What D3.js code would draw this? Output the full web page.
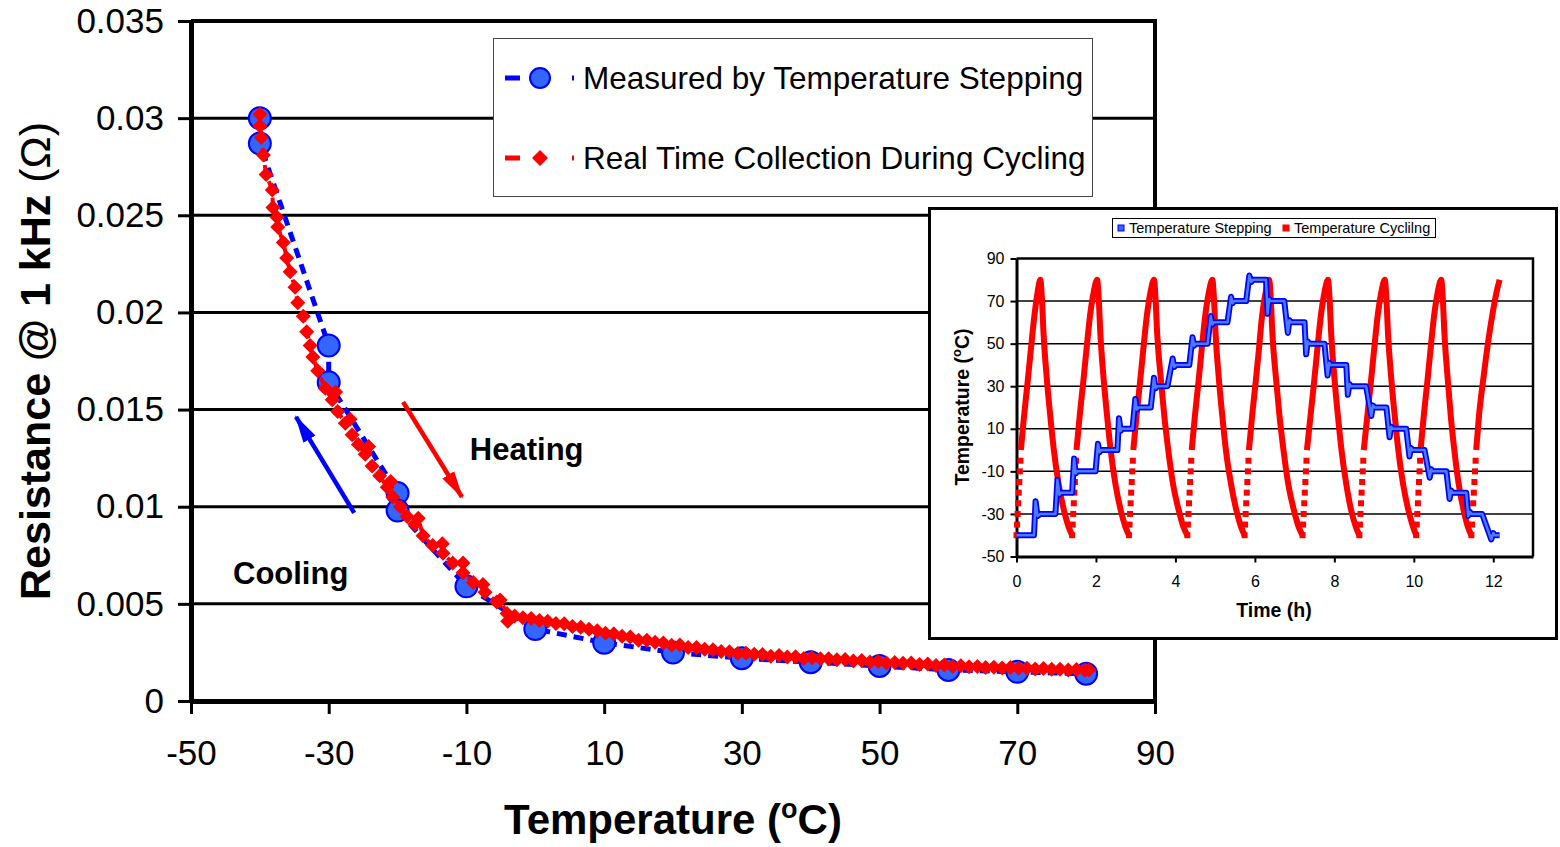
<!DOCTYPE html>
<html>
<head>
<meta charset="utf-8">
<script src="https://cdn.jsdelivr.net/npm/d3@7"></script>
<style>
  html, body { margin: 0; padding: 0; background: #fff; }
  svg { display: block; }
  text { font-family: "Liberation Sans", Arial, Helvetica, sans-serif; }
</style>
</head>
<body>
<div id="chart"></div>
<script>
// ---- main chart: resistance vs temperature ----
const mainXTicks = [-50, -30, -10, 10, 30, 50, 70, 90];
const mainYTicks = [0, 0.005, 0.01, 0.015, 0.02, 0.025, 0.03, 0.035];
const mainYLabels = ['0', '0.005', '0.01', '0.015', '0.02', '0.025', '0.03', '0.035'];

// measured by temperature stepping
const steppingTemp = [-40, -40, -30, -30, -20, -20, -10, 0, 10, 20, 30, 40, 50, 60, 70, 80];
const steppingRes = [0.0300, 0.0287, 0.0183, 0.0164, 0.0107, 0.0098, 0.0059, 0.0037, 0.0030,
  0.0025, 0.0022, 0.0020, 0.0018, 0.0016, 0.0015, 0.0014];

// real time collection during cycling
const cyclingTemp = [-40.0, -40.0, -39.8, -39.5, -39.1, -38.2, -38.1, -37.5, -37.4, -36.6, -36.1, -35.6,
  -34.9, -34.5, -33.7, -33.2, -32.7, -32.3, -31.6, -30.5, -29.5, -29.0, -28.7, -27.6, -26.9, -26.6,
  -25.7, -24.7, -24.2, -23.7, -22.6, -21.5, -21.0, -20.7, -19.6, -18.6, -17.5, -17.0, -16.3, -14.9,
  -13.5, -13.4, -12.0, -10.5, -10.5, -9.0, -7.6, -7.3, -5.6, -5.1, -4.1, -4.0,
  -3.0, -1.8, -0.6, 0.6, 1.8, 3.0, 4.2, 5.4, 6.6, 7.8, 9.0, 10.2, 11.4, 12.6, 13.8, 15.0, 16.2, 17.4,
  18.6, 19.8, 21.0, 22.2, 23.4, 24.6, 25.8, 27.0, 28.2, 29.4, 30.6, 31.8, 33.0, 34.2, 35.4, 36.6,
  37.8, 39.0, 40.2, 41.4, 42.6, 43.8, 45.0, 46.2, 47.4, 48.6, 49.8, 51.0, 52.2, 53.4, 54.6, 55.8,
  57.0, 58.2, 59.4, 60.6, 61.8, 63.0, 64.2, 65.4, 66.6, 67.8, 69.0, 70.2, 71.4, 72.6, 73.8, 75.0,
  76.2, 77.4, 78.6, 79.8, 80.4];
const cyclingRes = [0.0302, 0.0296, 0.0290, 0.0281, 0.0271, 0.0263, 0.0254, 0.0249, 0.0244, 0.0236,
  0.0228, 0.0221, 0.0213, 0.0205, 0.0198, 0.0190, 0.0183, 0.0177, 0.0170, 0.0161, 0.0155, 0.0159,
  0.0149, 0.0143, 0.0145, 0.0137, 0.0132, 0.0127, 0.0131, 0.0121, 0.0116, 0.0110, 0.0113, 0.0105,
  0.0100, 0.0095, 0.0091, 0.0094, 0.0085, 0.0080, 0.0081, 0.0076, 0.0071, 0.0071, 0.0066, 0.0061,
  0.0060, 0.0056, 0.0051, 0.0052, 0.0045, 0.0041,
  0.00437, 0.00428, 0.00424, 0.00414, 0.00411, 0.00399, 0.00397, 0.00384, 0.00380, 0.00369, 0.00362,
  0.00349, 0.00346, 0.00333, 0.00329, 0.00313, 0.00313, 0.00302, 0.00298, 0.00287, 0.00288, 0.00276,
  0.00275, 0.00266, 0.00264, 0.00255, 0.00254, 0.00245, 0.00246, 0.00240, 0.00239, 0.00230, 0.00234,
  0.00227, 0.00228, 0.00219, 0.00223, 0.00217, 0.00218, 0.00212, 0.00213, 0.00206, 0.00208, 0.00201,
  0.00203, 0.00196, 0.00198, 0.00194, 0.00195, 0.00188, 0.00190, 0.00183, 0.00185, 0.00178, 0.00182,
  0.00176, 0.00177, 0.00173, 0.00174, 0.00170, 0.00172, 0.00168, 0.00169, 0.00165, 0.00167, 0.00163,
  0.00164, 0.00160, 0.00162, 0.00158, 0.00160];

const legendLabels = ['Measured by Temperature Stepping', 'Real Time Collection During Cycling'];

// annotation arrows in data units: [fromT, fromR, toT, toR]
const heatingArrow = [-19.2, 0.01539, -10.65, 0.0105];
const coolingArrow = [-26.3, 0.00968, -34.75, 0.01462];
const heatingLabel = [-9.5, 0.01297];
const coolingLabel = [-43.9, 0.00659];

// ---- inset: temperature profiles vs time ----
const insetXTicks = [0, 2, 4, 6, 8, 10, 12];
const insetYTicks = [-50, -30, -10, 10, 30, 50, 70, 90];
const insetLegend = ['Temperature Stepping', 'Temperature Cyclilng'];

const stepTime = [0.00, 0.44, 0.48, 0.53, 0.60, 0.98, 1.03, 1.08, 1.12, 1.40, 1.45, 1.49, 1.53, 1.99,
  2.05, 2.09, 2.13, 2.54, 2.58, 2.62, 2.66, 2.92, 2.99, 3.03, 3.07, 3.38, 3.46, 3.50, 3.54, 3.80,
  3.93, 3.97, 4.01, 4.35, 4.43, 4.47, 4.51, 4.81, 4.89, 4.93, 4.97, 5.31, 5.40, 5.44, 5.48, 5.78,
  5.86, 5.91, 5.95, 6.28, 6.32, 6.36, 6.40, 6.74, 6.83, 6.87, 6.91, 7.25, 7.29, 7.33, 7.37, 7.75,
  7.83, 7.87, 7.91, 8.30, 8.34, 8.38, 8.42, 8.80, 8.93, 8.97, 9.01, 9.31, 9.39, 9.43, 9.47, 9.81,
  9.89, 9.93, 9.97, 10.27, 10.40, 10.44, 10.48, 10.82, 10.90, 10.94, 10.98, 11.32, 11.37, 11.41,
  11.45, 11.72, 11.95, 12.00, 12.04, 12.16];
const stepTemp = [-40, -40, -24, -31, -30, -30, -14, -21, -20, -20, -4, -11, -10, -10,
  3, -1, 0, 0, 15, 9, 10, 10, 24, 19, 20, 20, 34, 29, 30, 30,
  43, 39, 40, 40, 53, 49, 50, 50, 63, 59, 60, 60, 72, 69, 70, 70,
  82, 79, 80, 80, 64, 71, 70, 70, 55, 61, 60, 60, 45, 51, 50, 50,
  35, 41, 40, 40, 26, 31, 30, 30, 16, 21, 20, 20, 6, 11, 10, 10,
  -3, 1, 0, 0, -13, -9, -10, -10, -23, -19, -20, -20, -31, -29,
  -30, -30, -42, -39, -40, -40];

// cycling: dense (continuous-looking) runs of [time h, temp C]
const cycleRuns = [
  [[0.11, 0], [0.19, 16], [0.28, 32], [0.36, 47], [0.45, 63], [0.53, 74], [0.60, 80], [0.64, 71], [0.68, 55],
   [0.77, 32], [0.85, 16], [0.94, 0], [1.06, -16], [1.19, -28], [1.31, -36], [1.40, -40]],
  [[1.51, 0], [1.59, 16], [1.68, 32], [1.76, 47], [1.85, 63], [1.94, 74], [2.03, 80], [2.07, 71], [2.11, 55],
   [2.20, 32], [2.28, 16], [2.37, 0], [2.49, -16], [2.62, -28], [2.74, -36], [2.83, -40]],
  [[2.94, 0], [3.02, 16], [3.11, 32], [3.19, 47], [3.28, 63], [3.37, 74], [3.46, 80], [3.50, 71], [3.54, 55],
   [3.64, 32], [3.72, 16], [3.82, 0], [3.94, -16], [4.08, -28], [4.20, -36], [4.30, -40]],
  [[4.41, 0], [4.49, 16], [4.58, 32], [4.66, 47], [4.75, 63], [4.84, 74], [4.93, 80], [4.97, 71], [5.01, 55],
   [5.10, 32], [5.18, 16], [5.27, 0], [5.40, -16], [5.53, -28], [5.65, -36], [5.74, -40]],
  [[5.85, 0], [5.93, 16], [6.02, 32], [6.10, 47], [6.18, 63], [6.27, 74], [6.36, 80], [6.40, 71], [6.44, 55],
   [6.54, 32], [6.62, 16], [6.72, 0], [6.84, -16], [6.98, -28], [7.10, -36], [7.20, -40]],
  [[7.31, 0], [7.40, 16], [7.49, 32], [7.57, 47], [7.66, 63], [7.75, 74], [7.84, 80], [7.88, 71], [7.92, 55],
   [8.01, 32], [8.09, 16], [8.18, 0], [8.30, -16], [8.42, -28], [8.54, -36], [8.63, -40]],
  [[8.74, 0], [8.83, 16], [8.92, 32], [9.00, 47], [9.09, 63], [9.18, 74], [9.27, 80], [9.31, 71], [9.35, 55],
   [9.44, 32], [9.52, 16], [9.61, 0], [9.73, -16], [9.86, -28], [9.98, -36], [10.06, -40]],
  [[10.17, 0], [10.25, 16], [10.34, 32], [10.42, 47], [10.51, 63], [10.60, 74], [10.69, 80], [10.73, 71], [10.77, 55],
   [10.86, 32], [10.93, 16], [11.02, 0], [11.13, -16], [11.25, -28], [11.36, -36], [11.45, -40]],
  [[11.57, 0], [11.64, 16], [11.76, 35], [11.88, 52], [12.00, 66], [12.08, 74], [12.16, 80]]
];
// cycling: sparse samples on the fast rise out of each -40 C trough
const dotTemps = [-40, -35, -30, -25, -20, -15, -10, -5];
const dotTimes = [
  [0.000, 0.014, 0.028, 0.042, 0.056, 0.070, 0.084, 0.098],
  [1.400, 1.414, 1.428, 1.442, 1.456, 1.470, 1.484, 1.498],
  [2.830, 2.844, 2.858, 2.872, 2.886, 2.900, 2.914, 2.928],
  [4.300, 4.314, 4.328, 4.342, 4.356, 4.370, 4.384, 4.398],
  [5.740, 5.754, 5.768, 5.782, 5.796, 5.810, 5.824, 5.838],
  [7.200, 7.214, 7.228, 7.242, 7.256, 7.270, 7.284, 7.298],
  [8.630, 8.644, 8.658, 8.672, 8.686, 8.700, 8.714, 8.728],
  [10.060, 10.074, 10.088, 10.102, 10.116, 10.130, 10.144, 10.158],
  [11.450, 11.465, 11.480, 11.495, 11.510, 11.525, 11.540, 11.555]
];

function renderChart() {
  const W = 1560, H = 847;
  const BLUE = '#0000ff', BLUE_FILL = '#3366ff', RED = '#ff0000';

  const svg = d3.select('#chart').append('svg')
    .attr('width', W)
    .attr('height', H);
  svg.append('rect').attr('width', W).attr('height', H).attr('fill', '#fff');

  const defs = svg.append('defs');
  [['arrow-red', RED], ['arrow-blue', BLUE]].forEach(([id, col]) => {
    defs.append('marker')
      .attr('id', id)
      .attr('markerUnits', 'userSpaceOnUse')
      .attr('viewBox', '0 -8 28 16')
      .attr('refX', 26).attr('refY', 0)
      .attr('markerWidth', 28).attr('markerHeight', 16)
      .attr('orient', 'auto')
      .append('path')
      .attr('d', 'M0,-7L28,0L0,7Z')
      .attr('fill', col);
  });

  // ---------- main plot ----------
  const plot = { left: 191, right: 1155, top: 21, bottom: 701 };
  const x = d3.scaleLinear().domain([-50, 90]).range([plot.left, plot.right]);
  const y = d3.scaleLinear().domain([0, 0.035]).range([plot.bottom, plot.top]);

  svg.append('g').selectAll('line')
    .data(mainYTicks.slice(1, -1))
    .join('line')
    .attr('x1', plot.left).attr('x2', plot.right)
    .attr('y1', d => y(d)).attr('y2', d => y(d))
    .attr('stroke', '#000').attr('stroke-width', 3);

  svg.append('path')
    .attr('d', `M${plot.left},${plot.top}H${plot.right}V${plot.bottom}`)
    .attr('fill', 'none').attr('stroke', '#000').attr('stroke-width', 4);

  const yAxis = svg.append('g')
    .attr('transform', `translate(${plot.left},0)`)
    .call(d3.axisLeft(y).tickValues(mainYTicks).tickFormat((d, i) => mainYLabels[i])
      .tickSize(13).tickSizeOuter(0).tickPadding(14));
  const xAxis = svg.append('g')
    .attr('transform', `translate(0,${plot.bottom})`)
    .call(d3.axisBottom(x).tickValues(mainXTicks).tickFormat(d3.format('d'))
      .tickSize(13).tickSizeOuter(0).tickPadding(26));
  [yAxis, xAxis].forEach(ax => {
    ax.select('.domain').attr('stroke', '#000').attr('stroke-width', 5);
    ax.selectAll('.tick line').attr('stroke', '#000').attr('stroke-width', 3);
    ax.selectAll('.tick text')
      .attr('fill', '#000')
      .style('font-family', '"Liberation Sans", Arial, sans-serif')
      .style('font-size', '35px');
  });
  xAxis.selectAll('.tick text').text(d => d < 0 ? '-' + Math.abs(d) : d);

  // axis titles
  const yTitle = svg.append('text')
    .attr('transform', 'translate(50,361) rotate(-90)')
    .attr('text-anchor', 'middle')
    .style('font-size', '43px').style('font-weight', 'bold')
    .text('Resistance @ 1 kHz ');
  yTitle.append('tspan').style('font-weight', 'normal').text('(Ω)');

  const xTitle = svg.append('text')
    .attr('x', 673).attr('y', 834)
    .attr('text-anchor', 'middle')
    .style('font-size', '42px').style('font-weight', 'bold');
  xTitle.append('tspan').text('Temperature (');
  xTitle.append('tspan').attr('dy', -16).style('font-size', '27px').text('o');
  xTitle.append('tspan').attr('dy', 16).text('C)');

  // series
  const stepPts = steppingTemp.map((t, i) => ({ t, r: steppingRes[i] }));
  const cyclePts = cyclingTemp.map((t, i) => ({ t, r: cyclingRes[i] }));
  const line = d3.line().x(d => x(d.t)).y(d => y(d.r));
  const diamond = s => `M0,${-s}L${s},0L0,${s}L${-s},0Z`;

  svg.append('path').datum(stepPts)
    .attr('d', line)
    .attr('fill', 'none').attr('stroke', BLUE)
    .attr('stroke-width', 5).attr('stroke-dasharray', '10,7');

  svg.append('g').selectAll('circle')
    .data(stepPts)
    .join('circle')
    .attr('cx', d => x(d.t)).attr('cy', d => y(d.r)).attr('r', 11)
    .attr('fill', BLUE_FILL).attr('stroke', BLUE).attr('stroke-width', 2);

  svg.append('path').datum(cyclePts)
    .attr('d', line)
    .attr('fill', 'none').attr('stroke', RED)
    .attr('stroke-width', 4).attr('stroke-dasharray', '10,7');

  svg.append('g').selectAll('path')
    .data(cyclePts)
    .join('path')
    .attr('transform', d => `translate(${x(d.t)},${y(d.r)})`)
    .attr('d', diamond(7.5))
    .attr('fill', RED);

  // legend
  const lg = svg.append('g');
  lg.append('rect')
    .attr('x', 493.5).attr('y', 38.5).attr('width', 599).attr('height', 158)
    .attr('fill', '#fff').attr('stroke', '#444').attr('stroke-width', 1);
  legendLabels.forEach((label, i) => {
    const cy = 78 + i * 80;
    const col = i === 0 ? BLUE : RED;
    lg.append('line')
      .attr('x1', 505).attr('x2', 574).attr('y1', cy).attr('y2', cy)
      .attr('stroke', col).attr('stroke-width', 5).attr('stroke-dasharray', '15,52');
    if (i === 0) {
      lg.append('circle').attr('cx', 540).attr('cy', cy).attr('r', 10)
        .attr('fill', BLUE_FILL).attr('stroke', BLUE).attr('stroke-width', 2);
    } else {
      lg.append('path').attr('transform', `translate(540,${cy})`)
        .attr('d', diamond(8)).attr('fill', RED);
    }
    lg.append('text')
      .attr('x', 583).attr('y', cy).attr('dy', '0.35em')
      .style('font-size', '31.5px')
      .text(label);
  });

  // annotations
  svg.append('line')
    .attr('x1', x(heatingArrow[0])).attr('y1', y(heatingArrow[1]))
    .attr('x2', x(heatingArrow[2])).attr('y2', y(heatingArrow[3]))
    .attr('stroke', RED).attr('stroke-width', 4.5)
    .attr('marker-end', 'url(#arrow-red)');
  svg.append('line')
    .attr('x1', x(coolingArrow[0])).attr('y1', y(coolingArrow[1]))
    .attr('x2', x(coolingArrow[2])).attr('y2', y(coolingArrow[3]))
    .attr('stroke', BLUE).attr('stroke-width', 4.5)
    .attr('marker-end', 'url(#arrow-blue)');
  svg.append('text')
    .attr('x', x(heatingLabel[0])).attr('y', y(heatingLabel[1])).attr('dy', '0.35em')
    .style('font-size', '31px').style('font-weight', 'bold')
    .text('Heating');
  svg.append('text')
    .attr('x', x(coolingLabel[0])).attr('y', y(coolingLabel[1])).attr('dy', '0.35em')
    .style('font-size', '31px').style('font-weight', 'bold')
    .text('Cooling');

  // ---------- inset ----------
  const box = { x: 929.5, y: 208.5, w: 627, h: 430 };
  const ip = { left: 1016.5, right: 1533, top: 258.5, bottom: 556.5 };
  const ix = d3.scaleLinear().domain([0, 13]).range([ip.left, ip.right]);
  const iy = d3.scaleLinear().domain([-50, 90]).range([ip.bottom, ip.top]);
  const inset = svg.append('g');

  inset.append('rect')
    .attr('x', box.x).attr('y', box.y).attr('width', box.w).attr('height', box.h)
    .attr('fill', '#fff').attr('stroke', '#000').attr('stroke-width', 3);

  inset.append('g').selectAll('line')
    .data(insetYTicks.slice(1, -1))
    .join('line')
    .attr('x1', ip.left).attr('x2', ip.right)
    .attr('y1', d => iy(d)).attr('y2', d => iy(d))
    .attr('stroke', '#000').attr('stroke-width', 1.5);

  inset.append('path')
    .attr('d', `M${ip.left},${ip.top}H${ip.right}V${ip.bottom}`)
    .attr('fill', 'none').attr('stroke', '#000').attr('stroke-width', 2.5);

  const iyAxis = inset.append('g')
    .attr('transform', `translate(${ip.left},0)`)
    .call(d3.axisLeft(iy).tickValues(insetYTicks).tickSize(6).tickSizeOuter(0).tickPadding(6));
  const ixAxis = inset.append('g')
    .attr('transform', `translate(0,${ip.bottom})`)
    .call(d3.axisBottom(ix).tickValues(insetXTicks).tickSize(6).tickSizeOuter(0).tickPadding(13));
  [iyAxis, ixAxis].forEach(ax => {
    ax.select('.domain').attr('stroke', '#000').attr('stroke-width', 3);
    ax.selectAll('.tick line').attr('stroke', '#000').attr('stroke-width', 2);
    ax.selectAll('.tick text')
      .attr('fill', '#000')
      .style('font-family', '"Liberation Sans", Arial, sans-serif')
      .style('font-size', '16px');
  });
  iyAxis.selectAll('.tick text').text(d => d < 0 ? '-' + Math.abs(d) : d);

  const iyTitle = inset.append('text')
    .attr('transform', 'translate(969,407) rotate(-90)')
    .attr('text-anchor', 'middle')
    .style('font-size', '19.5px').style('font-weight', 'bold');
  iyTitle.append('tspan').text('Temperature (');
  iyTitle.append('tspan').attr('dy', -8).style('font-size', '13px').text('o');
  iyTitle.append('tspan').attr('dy', 8).text('C)');

  inset.append('text')
    .attr('x', 1274).attr('y', 617)
    .attr('text-anchor', 'middle')
    .style('font-size', '19.5px').style('font-weight', 'bold')
    .text('Time (h)');

  // cycling (red)
  const iline = d3.line().x(d => ix(d[0])).y(d => iy(d[1])).curve(d3.curveMonotoneX);
  inset.append('g').selectAll('path')
    .data(cycleRuns)
    .join('path')
    .attr('d', iline)
    .attr('fill', 'none').attr('stroke', RED).attr('stroke-width', 6);
  inset.append('g').selectAll('g')
    .data(dotTimes)
    .join('g')
    .selectAll('rect')
    .data(times => times.map((t, i) => [t, dotTemps[i]]))
    .join('rect')
    .attr('x', d => ix(d[0]) - 3).attr('y', d => iy(d[1]) - 3)
    .attr('width', 6).attr('height', 6)
    .attr('fill', RED);

  // stepping (blue)
  const stepInset = stepTime.map((t, i) => [t, stepTemp[i]]);
  const sline = d3.line().x(d => ix(d[0])).y(d => iy(d[1]));
  inset.append('path').datum(stepInset)
    .attr('d', sline)
    .attr('fill', 'none').attr('stroke', BLUE).attr('stroke-width', 6)
    .attr('stroke-linejoin', 'round');
  inset.append('path').datum(stepInset)
    .attr('d', sline)
    .attr('fill', 'none').attr('stroke', '#4d7bff').attr('stroke-width', 2.5)
    .attr('stroke-linejoin', 'round');

  // inset legend
  const il = inset.append('g');
  il.append('rect')
    .attr('x', 1112.5).attr('y', 218.5).attr('width', 323).attr('height', 19)
    .attr('fill', '#fff').attr('stroke', '#000').attr('stroke-width', 1);
  [[1121, insetLegend[0], BLUE_FILL, BLUE], [1286, insetLegend[1], RED, RED]].forEach(([lx, label, fill, stroke]) => {
    il.append('rect')
      .attr('x', lx - 3).attr('y', 225).attr('width', 6).attr('height', 6)
      .attr('fill', fill).attr('stroke', stroke).attr('stroke-width', 1);
    il.append('text')
      .attr('x', lx + 8).attr('y', 228).attr('dy', '0.35em')
      .style('font-size', '14.5px')
      .text(label);
  });
}

renderChart();
</script>
</body>
</html>
